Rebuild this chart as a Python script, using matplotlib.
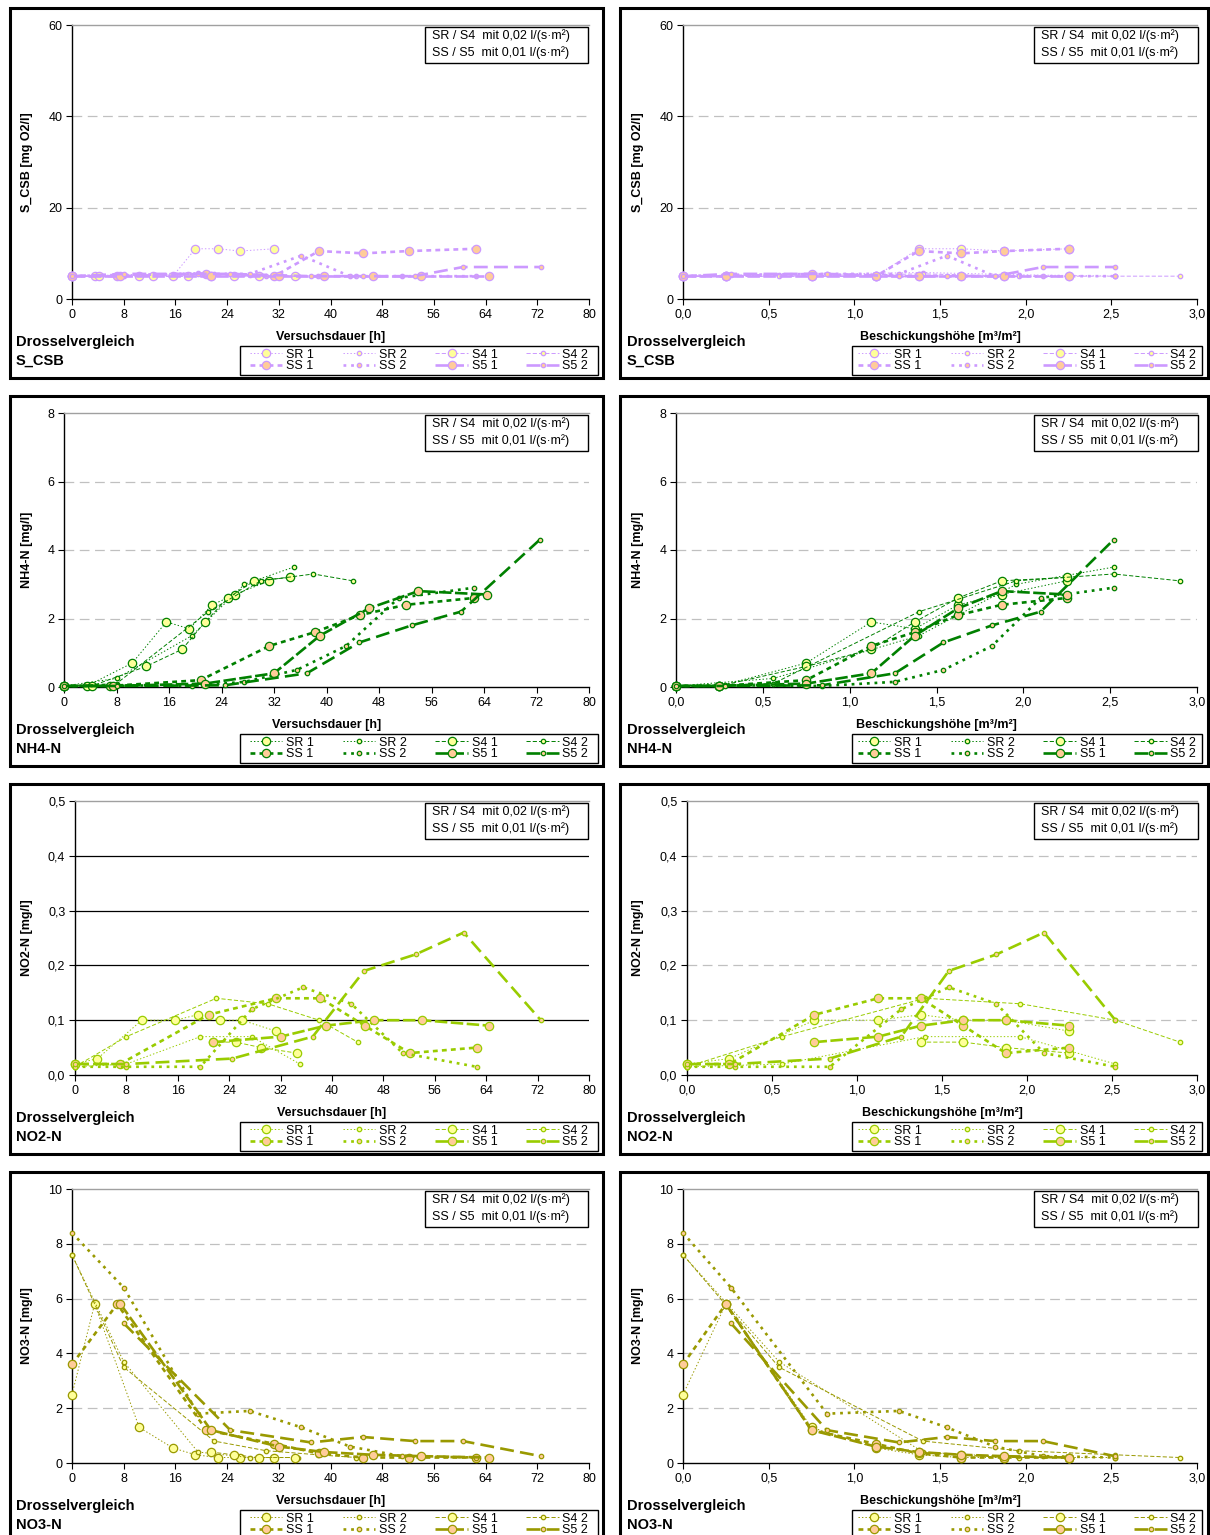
import numpy as np
import matplotlib.pyplot as plt
from matplotlib.patches import Rectangle

plt.rcParams['font.family'] = ['Liberation Sans', 'DejaVu Sans']
plt.rcParams['font.size'] = 9
plt.rcParams['lines.scale_dashes'] = False

nan = np.nan

# Serien (Reihenfolge wie in der Legende, zeilenweise)
series = ["SR 1", "SR 2", "S4 1", "S4 2", "SS 1", "SS 2", "S5 1", "S5 2"]

# Versuchsdauer [h] je Serie
t_sr1 = [0, 3.5, 10.4, 15.6, 19.1, 22.6, 26.0, 31.3]
t_sr2 = [0, 8, 19.5, 27.5, 35]
t_s41 = [0, 4.2, 12.5, 18.0, 21.5, 25.0, 29.0, 34.5]
t_s42 = [0, 8, 22, 30, 38, 44]
t_ss1 = [0, 7.0, 20.8, 31.3, 38.2, 45.1, 52.1, 62.5]
t_ss2 = [0, 8, 19.5, 27.5, 35.5, 43, 51, 62.5]
t_s51 = [0, 7.5, 21.5, 32.0, 39.0, 46.5, 54.0, 64.5]
t_s52 = [0, 8, 24.5, 37, 45, 53, 60.5, 72.5]

# Beschickungshoehe [m3/m2] je Serie
h_sr1 = [0, 0.25, 0.75, 1.125, 1.375, 1.625, 1.875, 2.25]
h_sr2 = [0, 0.56, 1.4, 1.96, 2.52]
h_s41 = [0, 0.25, 0.75, 1.125, 1.375, 1.625, 1.875, 2.25]
h_s42 = [0, 0.56, 1.4, 1.96, 2.52, 2.9]
h_ss1 = [0, 0.25, 0.75, 1.125, 1.375, 1.625, 1.875, 2.25]
h_ss2 = [0, 0.28, 0.84, 1.26, 1.54, 1.82, 2.1, 2.52]
h_s51 = [0, 0.25, 0.75, 1.125, 1.375, 1.625, 1.875, 2.25]
h_s52 = [0, 0.28, 0.84, 1.26, 1.54, 1.82, 2.1, 2.52]

# S_CSB [mg O2/l]
csb_sr1 = [5, 5, 5, 5, 11, 11, 10.5, 11]
csb_sr2 = [5, 5.3, 5.8, 5.3, 5]
csb_s41 = [5, 5, 5, 5, 5, 5, 5, 5]
csb_s42 = [5, 5, 5.5, 5, 5, 5]
csb_ss1 = [5, 5, 5.5, 5, 10.5, 10, 10.5, 11]
csb_ss2 = [5, 5.3, 5.5, 5.5, 9.5, 5, 5, 5]
csb_s51 = [5, 5, 5, 5, 5, 5, 5, 5]
csb_s52 = [5, 5.5, 5.5, 5, 5, 5, 7, 7]

# NH4-N [mg/l]
nh4_sr1 = [0.03, 0.03, 0.7, 1.9, 1.7, 2.4, 2.7, 3.1]
nh4_sr2 = [0.03, 0.25, 1.5, 3.0, 3.5]
nh4_s41 = [0.03, 0.03, 0.6, 1.1, 1.9, 2.6, 3.1, 3.2]
nh4_s42 = [0.03, 0.1, 2.2, 3.1, 3.3, 3.1]
nh4_ss1 = [0.03, 0.03, 0.2, 1.2, 1.6, 2.1, 2.4, 2.6]
nh4_ss2 = [0.03, 0.05, 0.03, 0.15, 0.5, 1.2, 2.6, 2.9]
nh4_s51 = [0.03, 0.03, 0.1, 0.4, 1.5, 2.3, 2.8, 2.7]
nh4_s52 = [0.03, 0.03, 0.05, 0.4, 1.3, 1.8, 2.2, 4.3]

# NO2-N [mg/l]
no2_sr1 = [0.02, 0.03, 0.1, 0.1, 0.11, 0.1, 0.1, 0.08]
no2_sr2 = [0.015, 0.02, 0.07, 0.07, 0.02]
no2_s41 = [nan, nan, nan, nan, 0.06, 0.06, 0.05, 0.04]
no2_s42 = [0.015, 0.07, 0.14, 0.13, 0.1, 0.06]
no2_ss1 = [0.02, 0.02, 0.11, 0.14, 0.14, 0.09, 0.04, 0.05]
no2_ss2 = [0.015, 0.015, 0.015, 0.12, 0.16, 0.13, 0.04, 0.015]
no2_s51 = [nan, nan, 0.06, 0.07, 0.09, 0.1, 0.1, 0.09]
no2_s52 = [0.02, 0.02, 0.03, 0.07, 0.19, 0.22, 0.26, 0.1]

# NO3-N [mg/l]
no3_sr1 = [2.5, 5.8, 1.3, 0.55, 0.3, 0.2, 0.2, 0.2]
no3_sr2 = [7.6, 3.7, 0.4, 0.2, 0.2]
no3_s41 = [nan, nan, nan, nan, 0.4, 0.3, 0.2, 0.2]
no3_s42 = [7.6, 3.5, 0.8, 0.45, 0.3, 0.2]
no3_ss1 = [3.6, 5.8, 1.2, 0.7, 0.35, 0.2, 0.2, 0.2]
no3_ss2 = [8.4, 6.4, 1.8, 1.9, 1.3, 0.6, 0.25, 0.2]
no3_s51 = [nan, 5.8, 1.2, 0.6, 0.4, 0.3, 0.25, 0.2]
no3_s52 = [nan, 5.1, 1.2, 0.75, 0.95, 0.8, 0.8, 0.25]

times = [t_sr1, t_sr2, t_s41, t_s42, t_ss1, t_ss2, t_s51, t_s52]
heights = [h_sr1, h_sr2, h_s41, h_s42, h_ss1, h_ss2, h_s51, h_s52]

yellow = "#FFFF99"
peach = "#FFCC99"
styles = [
    dict(ls=(0, (1, 1.5)), lw=0.7, ms=6, mfc=yellow),
    dict(ls=(0, (1, 1.5)), lw=0.7, ms=3.2, mfc=yellow),
    dict(ls=(0, (3, 1.5)), lw=0.7, ms=6, mfc=yellow),
    dict(ls=(0, (3, 1.5)), lw=0.7, ms=3.2, mfc=yellow),
    dict(ls=(0, (3.5, 3)), lw=1.9, ms=6, mfc=peach),
    dict(ls=(0, (2, 3.5)), lw=1.9, ms=3.2, mfc=peach),
    dict(ls=(0, (9, 2.5)), lw=1.9, ms=6, mfc=peach),
    dict(ls=(0, (10, 4.5)), lw=1.9, ms=3.2, mfc=peach),
]

panels = [
    ("S_CSB", "S_CSB [mg O2/l]", 60, [0, 20, 40, 60], 0, "#CC99FF",
     [csb_sr1, csb_sr2, csb_s41, csb_s42, csb_ss1, csb_ss2, csb_s51, csb_s52]),
    ("NH4-N", "NH4-N [mg/l]", 8, [0, 2, 4, 6, 8], 0, "#008000",
     [nh4_sr1, nh4_sr2, nh4_s41, nh4_s42, nh4_ss1, nh4_ss2, nh4_s51, nh4_s52]),
    ("NO2-N", "NO2-N [mg/l]", 0.5, [0, 0.1, 0.2, 0.3, 0.4, 0.5], 1, "#99CC00",
     [no2_sr1, no2_sr2, no2_s41, no2_s42, no2_ss1, no2_ss2, no2_s51, no2_s52]),
    ("NO3-N", "NO3-N [mg/l]", 10, [0, 2, 4, 6, 8, 10], 0, "#999900",
     [no3_sr1, no3_sr2, no3_s41, no3_s42, no3_ss1, no3_ss2, no3_s51, no3_s52]),
]

W, H = 1210, 1535
fig = plt.figure(figsize=(W / 100, H / 100), dpi=100)


def fbox(x0, y0, x1, y1):
    return [x0 / W, 1 - y1 / H, (x1 - x0) / W, (y1 - y0) / H]


plot_left = [[72, 683], [64, 676], [75, 687], [72, 683]]
plot_right = [589, 1197]
frame_x = [(10, 603), (620, 1208)]
legend_x = [(240, 598), (852, 1202)]
note_x = [(425, 588), (1034, 1198)]
legend_order = [0, 4, 1, 5, 2, 6, 3, 7]

for r, (name, ylabel, ymax, yticks, dec, color, values) in enumerate(panels):
    dy = 388 * r
    for c in range(2):
        x0, x1 = plot_left[r][c], plot_right[c]
        ax = fig.add_axes(fbox(x0, 25 + dy, x1, 299 + dy))
        xs_all = times if c == 0 else heights

        lines = []
        for i in range(8):
            ln, = ax.plot(xs_all[i], np.array(values[i], dtype=float), color=color,
                          marker="o", mec=color, mew=0.9, clip_on=False, zorder=3,
                          label=series[i], **styles[i])
            lines.append(ln)

        ax.set_ylim(0, ymax)
        ax.set_yticks(yticks)
        ax.set_yticklabels([f"{v:.{dec}f}".replace(".", ",") for v in yticks])
        if c == 0:
            ax.set_xlim(0, 80)
            xt = list(range(0, 81, 8))
            ax.set_xticks(xt)
            ax.set_xticklabels([str(v) for v in xt])
            xlabel = "Versuchsdauer [h]"
        else:
            ax.set_xlim(0, 3)
            xt = [0, 0.5, 1.0, 1.5, 2.0, 2.5, 3.0]
            ax.set_xticks(xt)
            ax.set_xticklabels([f"{v:.1f}".replace(".", ",") for v in xt])
            xlabel = "Beschickungshöhe [m³/m²]"

        for yv in yticks[1:-1]:
            if r == 2 and c == 0:
                ax.axhline(yv, color="black", lw=0.9, zorder=1)
            else:
                ax.axhline(yv, color="#C0C0C0", lw=0.9, ls=(0, (7, 4)), zorder=1)

        ax.spines["right"].set_visible(False)
        ax.spines["top"].set_color("#A0A0A0")
        ax.spines["top"].set_linewidth(1.0)
        ax.spines["left"].set_linewidth(1.0)
        ax.spines["bottom"].set_linewidth(1.0)
        ax.tick_params(direction="out", length=4, width=0.8, labelsize=9, pad=3)

        # Rahmen des Diagramms
        fx0, fx1 = frame_x[c]
        fig.patches.append(Rectangle((fx0 / W, 1 - (378 + dy) / H), (fx1 - fx0) / W, 370 / H,
                                     transform=fig.transFigure, fill=False,
                                     ec="black", lw=2.2, clip_on=False))

        # Achsentitel
        fig.text((x0 + x1) / 2 / W, 1 - (337 + dy) / H, xlabel, ha="center", va="center",
                 fontsize=9, fontweight="bold")
        fig.text((27 if c == 0 else 638) / W, 1 - (162 + dy) / H, ylabel, rotation=90,
                 ha="center", va="center", fontsize=9, fontweight="bold")
        tx = (16 if c == 0 else 627) / W
        fig.text(tx, 1 - (342 + dy) / H, "Drosselvergleich", ha="left", va="center",
                 fontsize=10.5, fontweight="bold")
        fig.text(tx, 1 - (361 + dy) / H, name, ha="left", va="center",
                 fontsize=10.5, fontweight="bold")

        # Hinweis-Kasten
        nx0, nx1 = note_x[c]
        fig.patches.append(Rectangle((nx0 / W, 1 - (63 + dy) / H), (nx1 - nx0) / W, 36 / H,
                                     transform=fig.transFigure, fc="white",
                                     ec="black", lw=1.0, zorder=5))
        fig.text((nx0 + 7) / W, 1 - (36 + dy) / H, "SR / S4  mit 0,02 l/(s·m²)",
                 ha="left", va="center", fontsize=9, zorder=6)
        fig.text((nx0 + 7) / W, 1 - (53 + dy) / H, "SS / S5  mit 0,01 l/(s·m²)",
                 ha="left", va="center", fontsize=9, zorder=6)

        # Legende
        lx0, lx1 = legend_x[c]
        ax.legend([lines[k] for k in legend_order], [series[k] for k in legend_order],
                  ncol=4, loc="center",
                  bbox_to_anchor=fbox(lx0, 346 + dy, lx1, 375 + dy),
                  bbox_transform=fig.transFigure, borderaxespad=0,
                  fontsize=9, frameon=False,
                  borderpad=0.1, labelspacing=-0.05,
                  handlelength=2.6, handletextpad=0.3, columnspacing=2.3,
                  numpoints=1)
        fig.patches.append(Rectangle((lx0 / W, 1 - (375 + dy) / H), (lx1 - lx0) / W, 29 / H,
                                     transform=fig.transFigure, fill=False,
                                     ec="black", lw=1.0))

fig.savefig("out.png", dpi=100)
